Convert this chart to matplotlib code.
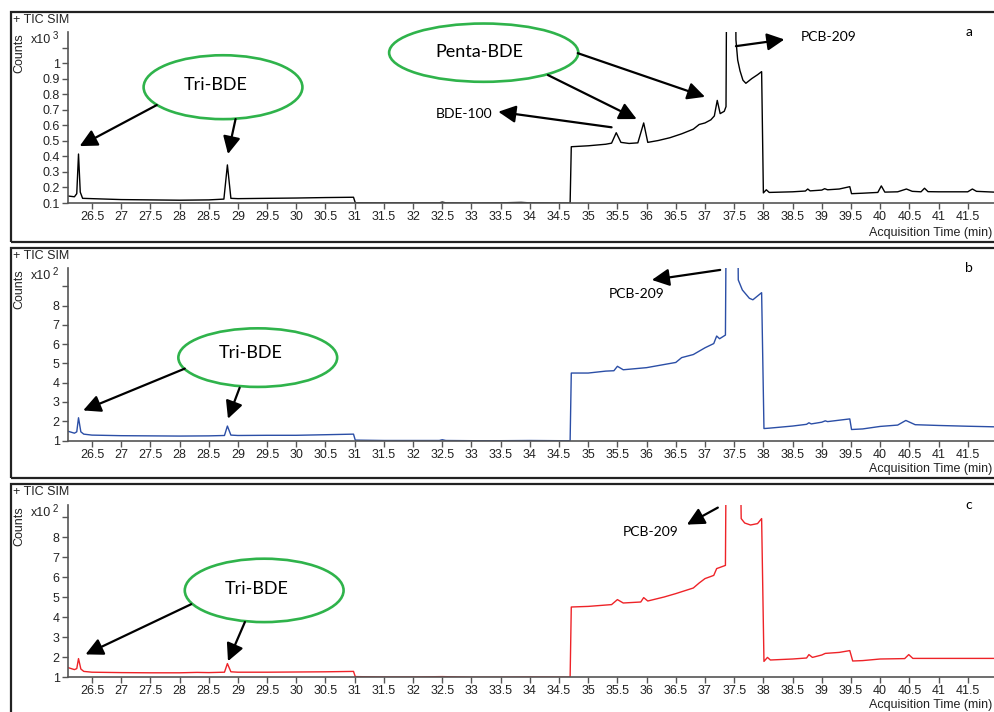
import matplotlib.pyplot as plt
from matplotlib.patches import Ellipse, Rectangle

# TIC SIM traces (retention time in min, counts scaled)
rt_a = [26.09, 26.20, 26.24, 26.27, 26.30, 26.34, 26.50, 27.00, 27.50, 28.00,
        28.50, 28.76, 28.82, 28.88, 29.00, 29.50, 30.00, 30.50, 30.98, 31.01,
        31.50, 32.00, 32.45, 32.50, 32.56, 33.00, 33.50, 33.85, 34.00, 34.50,
        34.69, 34.71, 35.00, 35.30, 35.40, 35.48, 35.56, 35.70, 35.85, 35.95,
        36.02, 36.20, 36.40, 36.60, 36.80, 36.90, 37.00, 37.10, 37.16, 37.21,
        37.26, 37.33, 37.36, 37.39, 37.50, 37.53, 37.56, 37.60, 37.65, 37.70,
        37.80, 37.90, 37.97, 38.00, 38.05, 38.10, 38.50, 38.72, 38.76, 38.80,
        39.00, 39.05, 39.10, 39.30, 39.48, 39.51, 39.70, 39.96, 40.02, 40.08,
        40.30, 40.45, 40.55, 40.70, 40.76, 40.82, 41.00, 41.50, 41.58, 41.65,
        41.95]
counts_a = [0.145, 0.140, 0.160, 0.415, 0.170, 0.130, 0.128, 0.122, 0.120, 0.118,
            0.120, 0.125, 0.345, 0.130, 0.128, 0.130, 0.132, 0.135, 0.137, 0.102,
            0.101, 0.101, 0.101, 0.106, 0.101, 0.100, 0.101, 0.104, 0.101, 0.100,
            0.100, 0.462, 0.468, 0.478, 0.485, 0.552, 0.490, 0.483, 0.487, 0.615,
            0.490, 0.502, 0.520, 0.545, 0.575, 0.605, 0.615, 0.635, 0.660, 0.760,
            0.675, 0.690, 0.720, 3.000, 3.000, 1.150, 1.020, 0.950, 0.890, 0.870,
            0.900, 0.925, 0.945, 0.165, 0.185, 0.168, 0.172, 0.177, 0.190, 0.178,
            0.183, 0.192, 0.185, 0.190, 0.205, 0.160, 0.163, 0.168, 0.210, 0.170,
            0.172, 0.190, 0.175, 0.172, 0.195, 0.173, 0.172, 0.172, 0.190, 0.175,
            0.170]

rt_b = [26.09, 26.20, 26.24, 26.27, 26.31, 26.36, 26.50, 27.00, 27.50, 28.00,
        28.50, 28.77, 28.82, 28.88, 29.00, 29.50, 30.00, 30.50, 30.98, 31.01,
        31.50, 32.00, 32.45, 32.50, 32.56, 33.00, 33.50, 34.00, 34.50, 34.69,
        34.71, 35.00, 35.30, 35.44, 35.50, 35.60, 36.00, 36.50, 36.60, 36.80,
        37.00, 37.15, 37.20, 37.25, 37.35, 37.38, 37.54, 37.57, 37.64, 37.76,
        37.82, 37.97, 38.01, 38.10, 38.50, 38.74, 38.78, 38.82, 39.00, 39.06,
        39.10, 39.48, 39.51, 39.70, 40.00, 40.30, 40.44, 40.60, 41.00, 41.50,
        41.95]
counts_b = [1.48, 1.38, 1.45, 2.18, 1.45, 1.33, 1.28, 1.25, 1.24, 1.23,
            1.24, 1.26, 1.75, 1.28, 1.26, 1.27, 1.27, 1.30, 1.33, 1.02,
            1.00, 1.00, 1.00, 1.04, 1.00, 0.99, 0.99, 1.00, 0.99, 0.99,
            4.50, 4.50, 4.60, 4.62, 4.85, 4.67, 4.78, 5.05, 5.30, 5.46,
            5.81, 6.03, 6.42, 6.28, 6.47, 20.0, 20.0, 9.33, 8.81, 8.38,
            8.30, 8.67, 1.62, 1.64, 1.75, 1.84, 1.92, 1.86, 1.95, 2.02,
            1.98, 2.12, 1.57, 1.60, 1.73, 1.80, 2.04, 1.82, 1.78, 1.74,
            1.71]

rt_c = [26.09, 26.20, 26.24, 26.27, 26.31, 26.36, 26.50, 27.00, 27.50, 28.00,
        28.30, 28.50, 28.77, 28.82, 28.88, 29.00, 29.50, 30.00, 30.50, 30.98,
        31.01, 31.50, 32.00, 32.50, 33.00, 33.50, 34.00, 34.69, 34.71, 35.00,
        35.40, 35.50, 35.60, 35.90, 35.95, 36.02, 36.30, 36.50, 36.80, 36.90,
        37.00, 37.15, 37.20, 37.35, 37.38, 37.57, 37.62, 37.68, 37.78, 37.90,
        37.97, 38.01, 38.07, 38.12, 38.50, 38.74, 38.78, 38.84, 39.00, 39.06,
        39.30, 39.48, 39.53, 39.70, 40.00, 40.42, 40.49, 40.56, 41.00, 41.95]
counts_c = [1.47, 1.37, 1.42, 1.92, 1.40, 1.28, 1.24, 1.22, 1.21, 1.21,
            1.23, 1.22, 1.24, 1.67, 1.26, 1.24, 1.24, 1.25, 1.26, 1.28,
            1.02, 1.00, 1.00, 1.02, 0.99, 0.99, 1.00, 0.99, 4.50, 4.53,
            4.62, 4.87, 4.70, 4.75, 4.97, 4.80, 5.00, 5.17, 5.45, 5.70,
            5.92, 6.08, 6.42, 6.58, 20.0, 20.0, 8.92, 8.70, 8.60, 8.67,
            8.92, 1.78, 1.98, 1.85, 1.90, 1.95, 2.12, 1.98, 2.10, 2.18,
            2.23, 2.32, 1.80, 1.82, 1.90, 1.92, 2.12, 1.93, 1.93, 1.93]

xticks = [26.5 + 0.5 * i for i in range(31)]
yticks_a = [0.1, 0.2, 0.3, 0.4, 0.5, 0.6, 0.7, 0.8, 0.9, 1.0, 1.1]
ylabels_a = ['0.1', '0.2', '0.3', '0.4', '0.5', '0.6', '0.7', '0.8', '0.9', '1', '']
yticks_bc = [1, 2, 3, 4, 5, 6, 7, 8, 9]
ylabels_bc = ['1', '2', '3', '4', '5', '6', '7', '8', '']

plt.rcParams['font.family'] = ['Liberation Sans', 'DejaVu Sans']
W, H = 994, 712
fig = plt.figure(figsize=(W / 100, H / 100), dpi=100)
ANNO_FONT = 'Lato'
GREEN = '#2fb34b'


def fx(px):
    return px / W


def fy(py):
    return 1 - py / H


def arrow(ax, tail, tip):
    ax.annotate('', xy=tip, xytext=tail, annotation_clip=False,
                arrowprops=dict(arrowstyle='-|>,head_length=0.7,head_width=0.35',
                                color='black', lw=1.6, shrinkA=0, shrinkB=0,
                                mutation_scale=15))


def bubble(ax, center, w, h, label, text_xy):
    ax.add_patch(Ellipse(center, w, h, facecolor='white', edgecolor=GREEN,
                         lw=1.9, clip_on=False, zorder=3))
    ax.text(text_xy[0], text_xy[1], label, ha='center', va='center',
            fontsize=13, family=ANNO_FONT, zorder=4)


panels = [
    dict(rt=rt_a, y=counts_a, color='black', top=32, bottom=203, ylim=(0.1, 1.2),
         yt=yticks_a, yl=ylabels_a, exp='3', frame=(12, 242), letter='a'),
    dict(rt=rt_b, y=counts_b, color='#2b4ea6', top=268, bottom=440.5, ylim=(1, 9.95),
         yt=yticks_bc, yl=ylabels_bc, exp='2', frame=(248, 478), letter='b'),
    dict(rt=rt_c, y=counts_c, color='#ee2328', top=505, bottom=677, ylim=(1, 9.6),
         yt=yticks_bc, yl=ylabels_bc, exp='2', frame=(484, 720), letter='c'),
]

axes = []
for p in panels:
    # outer frame of each panel
    fig.patches.append(Rectangle((fx(11), fy(p['frame'][1])), fx(1010 - 11),
                                 (p['frame'][1] - p['frame'][0]) / H,
                                 transform=fig.transFigure, fill=False,
                                 edgecolor='#222222', lw=1.6))
    ax = fig.add_axes([fx(68), fy(p['bottom']), fx(W - 68),
                       (p['bottom'] - p['top']) / H])
    ax.plot(p['rt'], p['y'], color=p['color'], lw=1.0)
    ax.set_xlim(26.09, 41.95)
    ax.set_ylim(*p['ylim'])
    ax.set_xticks(xticks)
    ax.set_xticklabels([f'{t:g}' for t in xticks])
    ax.set_yticks(p['yt'])
    ax.set_yticklabels(p['yl'])
    for s in ['top', 'right']:
        ax.spines[s].set_visible(False)
    for s in ['left', 'bottom']:
        ax.spines[s].set_color('#555555')
        ax.spines[s].set_linewidth(1.2)
    ax.tick_params(direction='out', length=4, width=1, color='#555555',
                   labelsize=9, labelcolor='#222222', pad=2)
    ax.patch.set_alpha(0)

    top = p['frame'][0]
    fig.text(fx(13), fy(top + 8), '+ TIC SIM', fontsize=9, color='#222222',
             va='center', ha='left')
    fig.text(fx(19), fy(p['top'] + 21), 'Counts', fontsize=9, color='#222222',
             rotation=90, va='center', ha='center')
    fig.text(fx(31), fy(p['top'] + 8), 'x10', fontsize=9, color='#222222',
             va='center', ha='left')
    fig.text(fx(53), fy(p['top'] + 4), p['exp'], fontsize=7, color='#222222',
             va='center', ha='left')
    fig.text(fx(992), fy(p['frame'][0] + 221), 'Acquisition Time (min)',
             fontsize=9, color='#222222', va='center', ha='right')
    ax.text(0.973, 1.0, p['letter'], transform=ax.transAxes, fontsize=10,
            family=ANNO_FONT, ha='center', va='center')
    axes.append(ax)

ax_a, ax_b, ax_c = axes

# panel a annotations
bubble(ax_a, (28.745, 0.845), 2.72, 0.411, 'Tri-BDE', (28.62, 0.858))
arrow(ax_a, (27.61, 0.73), (26.29, 0.466))
arrow(ax_a, (28.96, 0.64), (28.83, 0.415))
bubble(ax_a, (33.21, 1.067), 3.24, 0.375, 'Penta-BDE', (33.14, 1.07))
arrow(ax_a, (34.82, 1.064), (37.0, 0.783))
arrow(ax_a, (34.31, 0.923), (35.83, 0.64))
arrow(ax_a, (35.40, 0.587), (33.46, 0.687))
ax_a.text(32.88, 0.672, 'BDE-100', ha='center', va='center', fontsize=10,
          family=ANNO_FONT)
arrow(ax_a, (37.53, 1.109), (38.36, 1.152))
ax_a.text(38.64, 1.165, 'PCB-209', ha='left', va='center', fontsize=10,
          family=ANNO_FONT)

# panel b annotations
bubble(ax_b, (29.34, 5.30), 2.72, 3.04, 'Tri-BDE', (29.22, 5.53))
arrow(ax_b, (28.09, 4.73), (26.35, 2.56))
arrow(ax_b, (29.03, 3.74), (28.83, 2.13))
arrow(ax_b, (37.26, 9.85), (36.09, 9.33))
ax_b.text(35.83, 8.58, 'PCB-209', ha='center', va='center', fontsize=10,
          family=ANNO_FONT)

# panel c annotations
bubble(ax_c, (29.45, 5.33), 2.72, 3.17, 'Tri-BDE', (29.32, 5.39))
arrow(ax_c, (28.20, 4.64), (26.39, 2.13))
arrow(ax_c, (29.12, 3.75), (28.83, 1.79))
arrow(ax_c, (37.22, 9.47), (36.69, 8.62))
ax_c.text(36.07, 8.23, 'PCB-209', ha='center', va='center', fontsize=10,
          family=ANNO_FONT)

fig.savefig('out.png', dpi=100)
